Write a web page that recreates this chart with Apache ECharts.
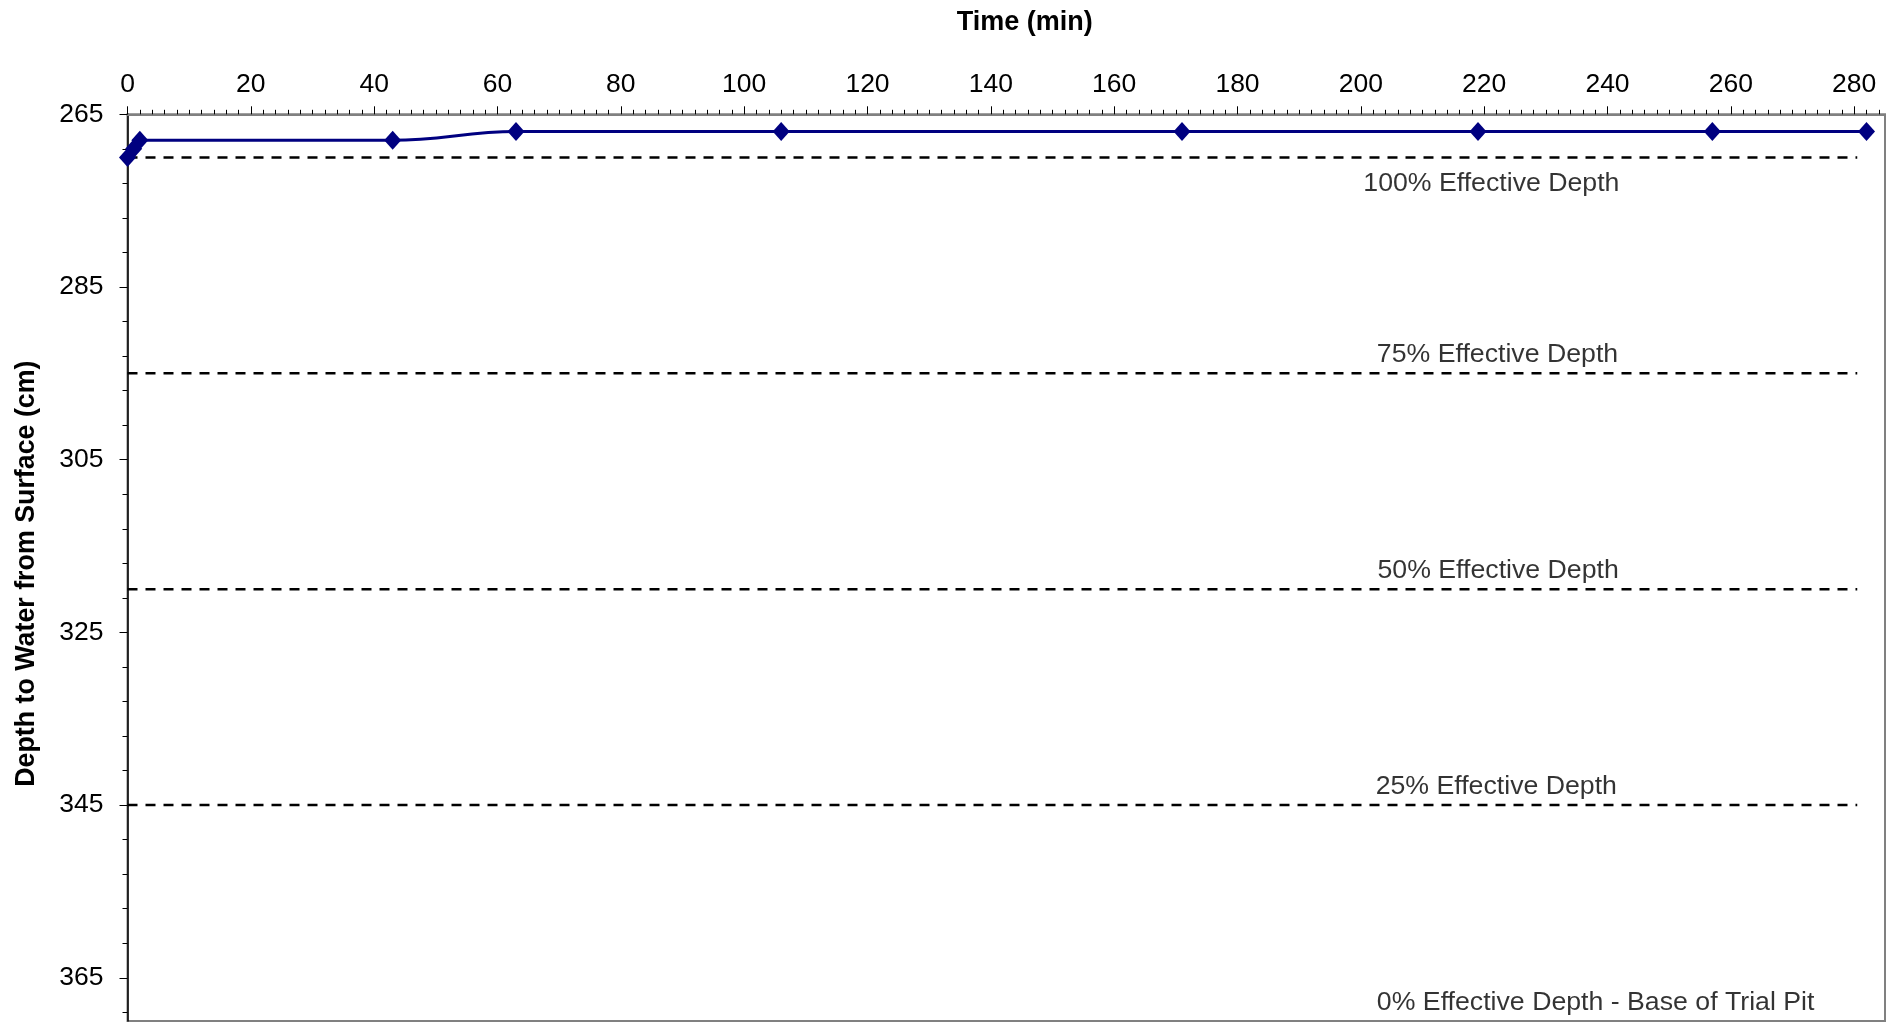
<!DOCTYPE html>
<html>
<head>
<meta charset="utf-8">
<script src="https://cdn.jsdelivr.net/npm/echarts@6/dist/echarts.min.js"></script>
<style>
html,body{margin:0;padding:0;background:#fff;}
#chart{width:1899px;height:1026px;}
</style>
</head>
<body>
<div id="chart"></div>
<script>
// ---- data ----
const timeMin = [0, 1, 2, 43, 63, 106, 171, 219, 257, 282];
const depthCm = [270, 269, 268, 268, 267, 267, 267, 267, 267, 267];

const refDepths = [270, 295, 320, 345, 370];
const refLabels = ['100% Effective Depth', '75% Effective Depth', '50% Effective Depth', '25% Effective Depth', '0% Effective Depth - Base of Trial Pit'];
const refLineStart = 0;
const refLineEnd = 280.5;
const refLabelTime = [200.4, 202.6, 202.7, 202.4, 202.6];

const xTickValues = [0, 20, 40, 60, 80, 100, 120, 140, 160, 180, 200, 220, 240, 260, 280];
const xMinorTickValues = [];
for (let v = 2; v <= 284; v += 2) if (v % 20 !== 0) xMinorTickValues.push(v);
const yTickValues = [265, 285, 305, 325, 345, 365];
const yMinorTickValues = [];
for (let v = 269; v <= 369; v += 4) if ((v - 265) % 20 !== 0) yMinorTickValues.push(v);

const xMin = 0, xMax = 285, yMin = 265, yMax = 370;

// ---- chart ----
const FONT = '"Liberation Sans", Arial, sans-serif';
const chart = echarts.init(document.getElementById('chart'), null, {renderer: 'canvas'});

const series = [];
series.push({
  name: 'Depth to Water',
  type: 'line',
  xAxisIndex: 0, yAxisIndex: 0,
  data: timeMin.map((t, i) => [t, depthCm[i]]),
  smooth: 0.4,
  symbol: 'diamond',
  symbolSize: [17, 19],
  lineStyle: {color: '#000080', width: 3},
  itemStyle: {color: '#000080'},
  z: 5
});
refDepths.forEach((d, i) => {
  if (i < refDepths.length - 1) {
    series.push({
      name: refLabels[i],
      type: 'line',
      xAxisIndex: 0, yAxisIndex: 0,
      data: [[refLineStart, d], [refLineEnd, d]],
      symbol: 'none',
      lineStyle: {color: '#000', width: 2.5, type: [10, 8]},
      z: 3
    });
  }
});
series.push({
  name: 'labels',
  type: 'scatter',
  xAxisIndex: 0, yAxisIndex: 0,
  symbolSize: 0,
  data: refDepths.map((d, i) => ({
    value: [refLabelTime[i], d],
    label: i === 0 ? {position: 'bottom', distance: 13} : {position: 'top', distance: 5}
  })),
  label: {
    show: true,
    formatter: p => refLabels[p.dataIndex],
    align: 'left',
    color: '#000',
    fontFamily: FONT,
    fontSize: 26.7,
    lineHeight: 27
  },
  silent: true,
  z: 6
});

chart.setOption({
  animation: false,
  backgroundColor: '#fff',
  grid: {
    left: 127.5, top: 114.3, right: 14, bottom: 5,
    show: true, borderColor: '#808080', borderWidth: 2, backgroundColor: '#fff'
  },
  xAxis: [
    {
      type: 'value', position: 'top', min: xMin, max: xMax,
      name: 'Time (min)', nameLocation: 'middle', nameGap: 78,
      nameTextStyle: {fontFamily: FONT, fontWeight: 'bold', fontSize: 27, color: '#000', padding: [0, 0, 0, 37], lineHeight: 27},
      axisLine: {show: true, lineStyle: {color: '#808080', width: 2}},
      axisTick: {show: true, inside: false, length: 8, customValues: xTickValues, lineStyle: {color: '#000', width: 1}},
      axisLabel: {show: true, customValues: xTickValues, margin: 17, fontFamily: FONT, fontSize: 26.5, lineHeight: 26, color: '#000'},
      splitLine: {show: false}
    },
    {
      type: 'value', position: 'top', min: xMin, max: xMax,
      axisLine: {show: false},
      axisTick: {show: true, inside: false, length: 4.5, customValues: xMinorTickValues, lineStyle: {color: '#000', width: 1}},
      axisLabel: {show: false},
      splitLine: {show: false}
    }
  ],
  yAxis: [
    {
      type: 'value', position: 'left', inverse: true, min: yMin, max: yMax,
      name: 'Depth to Water from Surface (cm)', nameLocation: 'middle', nameGap: 87,
      nameTextStyle: {fontFamily: FONT, fontWeight: 'bold', fontSize: 26.8, color: '#000', lineHeight: 27, padding: [0, 12, 0, 0]},
      axisLine: {show: true, lineStyle: {color: '#000', width: 1.5}},
      axisTick: {show: true, inside: false, length: 8, customValues: yTickValues, lineStyle: {color: '#000', width: 1}},
      axisLabel: {show: true, customValues: yTickValues, margin: 24, fontFamily: FONT, fontSize: 26.5, color: '#000'},
      splitLine: {show: false}
    },
    {
      type: 'value', position: 'left', inverse: true, min: yMin, max: yMax,
      axisLine: {show: false},
      axisTick: {show: true, inside: false, length: 5, customValues: yMinorTickValues, lineStyle: {color: '#000', width: 1}},
      axisLabel: {show: false},
      splitLine: {show: false}
    }
  ],
  series: series
});
</script>
</body>
</html>
